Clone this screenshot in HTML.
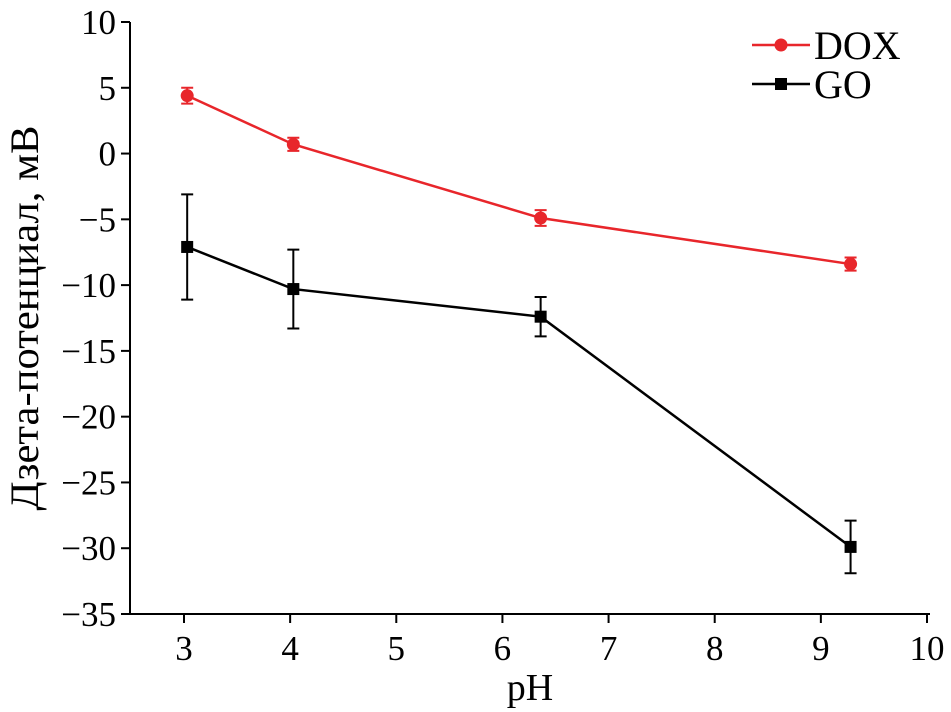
<!DOCTYPE html>
<html><head><meta charset="utf-8"><style>
html,body{margin:0;padding:0;background:#fff;}
svg{display:block;font-family:"Liberation Serif",serif;}
</style></head><body>
<svg id="chart" width="951" height="712"></svg>
<script>
const xTicks=[3,4,5,6,7,8,9,10];
const yTicks=[10,5,0,-5,-10,-15,-20,-25,-30,-35];
const phValues=[3.03,4.03,6.36,9.28];
const doxValues=[4.4,0.7,-4.9,-8.4];
const doxErrors=[0.6,0.5,0.6,0.5];
const goValues=[-7.1,-10.3,-12.4,-29.9];
const goErrors=[4.0,3.0,1.5,2.0];

const svg=document.getElementById('chart');
const NS='http://www.w3.org/2000/svg';
const X0=130,X1=930,Y0=22,Y1=614;
function xs(v){return 184+(v-3)*(927-184)/7;}
function ys(v){return Y0+(10-v)*(Y1-Y0)/45;}
function mk(tag,attrs,parent){const e=document.createElementNS(NS,tag);for(const k in attrs)e.setAttribute(k,attrs[k]);(parent||svg).appendChild(e);return e;}

const axes=mk('g',{});


mk('line',{x1:X0,y1:Y0,x2:X0,y2:Y1,stroke:'#000','stroke-width':2},axes);
mk('line',{x1:X0,y1:Y1,x2:X1,y2:Y1,stroke:'#000','stroke-width':2},axes);
yTicks.forEach(t=>{
  const y=ys(t);
  const l=mk('line',{x1:X0-9,y1:y,x2:X0,y2:y,stroke:'#000','stroke-width':2},axes);
  
  
  const tx=mk('text',{x:X0-14,y:y+12,'text-anchor':'end','font-size':35},axes);
  tx.textContent=(t<0?'\u2212'+(-t):String(t));
  
  
});
xTicks.forEach(t=>{
  const x=xs(t);
  const l=mk('line',{x1:x,y1:Y1,x2:x,y2:Y1+9,stroke:'#000','stroke-width':2},axes);
  
  
  const tx=mk('text',{x:x,y:660,'text-anchor':'middle','font-size':35},axes);
  tx.textContent=String(t);
  
  
});
const xt=mk('text',{x:530,y:700,'text-anchor':'middle','font-size':38});
xt.textContent='pH';


const yt=mk('text',{x:0,y:0,'text-anchor':'middle','font-size':40,textLength:385,lengthAdjust:'spacingAndGlyphs',transform:'translate(38,318) rotate(-90)'});
yt.textContent='Дзета-потенциал, мВ';



function series(vals,errs,color,name,square){
  const g=mk('g',{});
  
  
  const pts=phValues.map((p,i)=>xs(p)+','+ys(vals[i])).join(' ');
  const pl=mk('polyline',{points:pts,fill:'none',stroke:color,'stroke-width':2.5},g);
  
  
  phValues.forEach((p,i)=>{
    const x=xs(p),yt=ys(vals[i]+errs[i]),yb=ys(vals[i]-errs[i]);
    const eb=mk('path',{d:`M${x},${yt}V${yb}M${x-6},${yt}H${x+6}M${x-6},${yb}H${x+6}`,stroke:color,'stroke-width':2,fill:'none'},g);
    
    
    let m;
    if(square) m=mk('rect',{x:x-6,y:ys(vals[i])-6,width:12,height:12,fill:color},g);
    else m=mk('circle',{cx:x,cy:ys(vals[i]),r:6.5,fill:color},g);
    
    
  });
}
series(doxValues,doxErrors,'#e8262b','dox',false);
series(goValues,goErrors,'#000','go',true);

const lg=mk('g',{});


const e1=mk('g',{},lg);


mk('line',{x1:752,y1:45,x2:810,y2:45,stroke:'#e8262b','stroke-width':2.5},e1);
mk('circle',{cx:781,cy:45,r:6.5,fill:'#e8262b'},e1);
const t1=mk('text',{x:814,y:59,'font-size':40},e1);t1.textContent='DOX';
const e2=mk('g',{},lg);


mk('line',{x1:752,y1:84,x2:810,y2:84,stroke:'#000','stroke-width':2.5},e2);
mk('rect',{x:775,y:78,width:12,height:12,fill:'#000'},e2);
const t2=mk('text',{x:814,y:98,'font-size':40},e2);t2.textContent='GO';
</script>
</body></html>
